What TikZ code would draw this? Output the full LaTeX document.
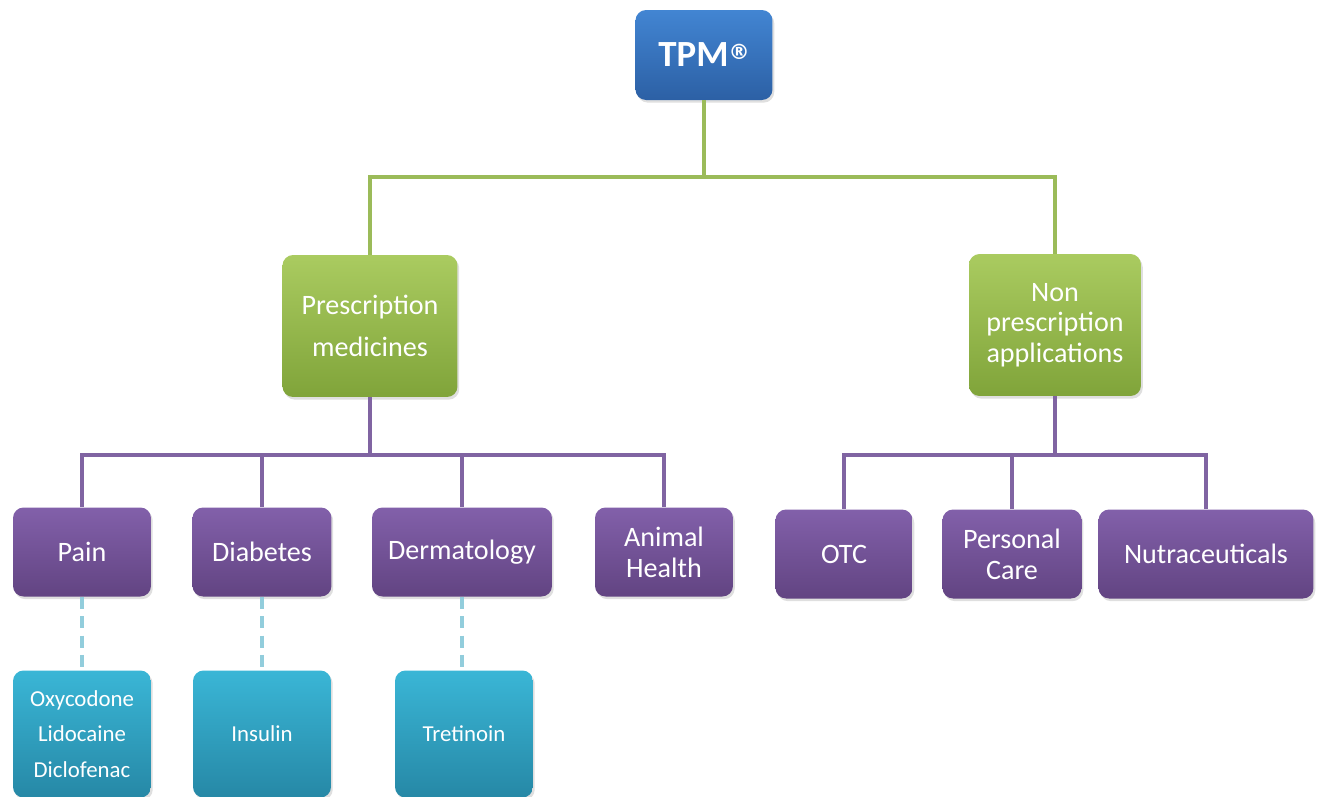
\documentclass[tikz,border=0pt]{standalone}
\usepackage{fontspec}
\setmainfont{Carlito}
\newfontfamily\regfont{DejaVu Sans}
\usetikzlibrary{shadows}
\definecolor{tpmtop}{RGB}{66,133,210}
\definecolor{tpmbot}{RGB}{44,96,165}
\definecolor{grntop}{RGB}{170,203,96}
\definecolor{grnbot}{RGB}{128,164,58}
\definecolor{grnline}{RGB}{155,187,89}
\definecolor{purtop}{RGB}{130,96,170}
\definecolor{purbot}{RGB}{98,68,130}
\definecolor{purline}{RGB}{128,100,162}
\definecolor{cyntop}{RGB}{58,182,214}
\definecolor{cynbot}{RGB}{38,136,166}
\definecolor{cynline}{RGB}{146,205,220}

\begin{document}
\begin{tikzpicture}[x=0.02cm, y=-0.02cm,
    box/.style={rounded corners=6pt, text=white, align=center, inner sep=2pt,
      drop shadow={opacity=0.25, shadow xshift=1pt, shadow yshift=-1.5pt}},
    topbox/.style={box, top color=tpmtop, bottom color=tpmbot,
      minimum width=2.74cm, minimum height=1.8cm, font=\bfseries\fontsize{21}{24}\selectfont},
    catbox/.style={box, top color=grntop, bottom color=grnbot,
      minimum width=3.5cm, minimum height=2.84cm},
    areabox/.style={box, top color=purtop, bottom color=purbot,
      minimum height=1.78cm, font=\fontsize{16}{17.5}\selectfont},
    drugbox/.style={box, top color=cyntop, bottom color=cynbot,
      minimum width=2.76cm, minimum height=2.54cm, font=\fontsize{13}{20}\selectfont},
    grnlink/.style={grnline, line width=2.3pt},
    purlink/.style={purline, line width=2.3pt},
    cynlink/.style={cynline, line width=2.3pt, dash pattern=on 7pt off 4pt}]
  \useasboundingbox (0,0) rectangle (1322,796);

  % top of the tree
  \node[topbox] (tpm) at (704,55) {TPM\raisebox{4.5pt}{\regfont\fontsize{12}{12}\selectfont ®}};
  \node[catbox, font=\fontsize{16}{24}\selectfont] (pres) at (370,326) {Prescription\\medicines};
  \node[catbox, minimum width=3.44cm, font=\fontsize{16}{17.5}\selectfont] (nonp) at (1055,325) {Non\\prescription\\applications};

  % purple row
  \node[areabox, minimum width=2.76cm] (pain) at (82,552) {Pain};
  \node[areabox, minimum width=2.78cm] (diab) at (262,552) {Diabetes};
  \node[areabox, minimum width=3.6cm] (derm) at (462,552) {Dermatology};
  \node[areabox, minimum width=2.76cm] (anim) at (664,552) {Animal\\Health};
  \node[areabox, minimum width=2.74cm] (otc) at (844,554) {OTC};
  \node[areabox, minimum width=2.78cm] (care) at (1012,554) {Personal\\Care};
  \node[areabox, minimum width=4.3cm] (nutr) at (1206,554) {Nutraceuticals};

  % blue row
  \node[drugbox] (oxy) at (82,734) {Oxycodone\\Lidocaine\\Diclofenac};
  \node[drugbox] (ins) at (262,734) {Insulin};
  \node[drugbox] (tret) at (464,734) {Tretinoin};

  % connectors
  \coordinate (tpmbus) at (704,177);
  \coordinate (presbus) at (370,455);
  \coordinate (nonpbus) at (1055,455);
  \foreach \n in {pres,nonp}
    \draw[grnlink] (tpm.south) -- (tpmbus) -| (\n.north);
  \foreach \n in {pain,diab,derm,anim}
    \draw[purlink] (pres.south) -- (presbus) -| (\n.north);
  \foreach \n in {otc,care,nutr}
    \draw[purlink] (nonp.south) -- (nonpbus) -| (\n.north);
  \draw[cynlink] (pain.south) -- (oxy.north);
  \draw[cynlink] (diab.south) -- (ins.north);
  \draw[cynlink] (derm.south) -- (derm.south |- tret.north);
\end{tikzpicture}
\end{document}
